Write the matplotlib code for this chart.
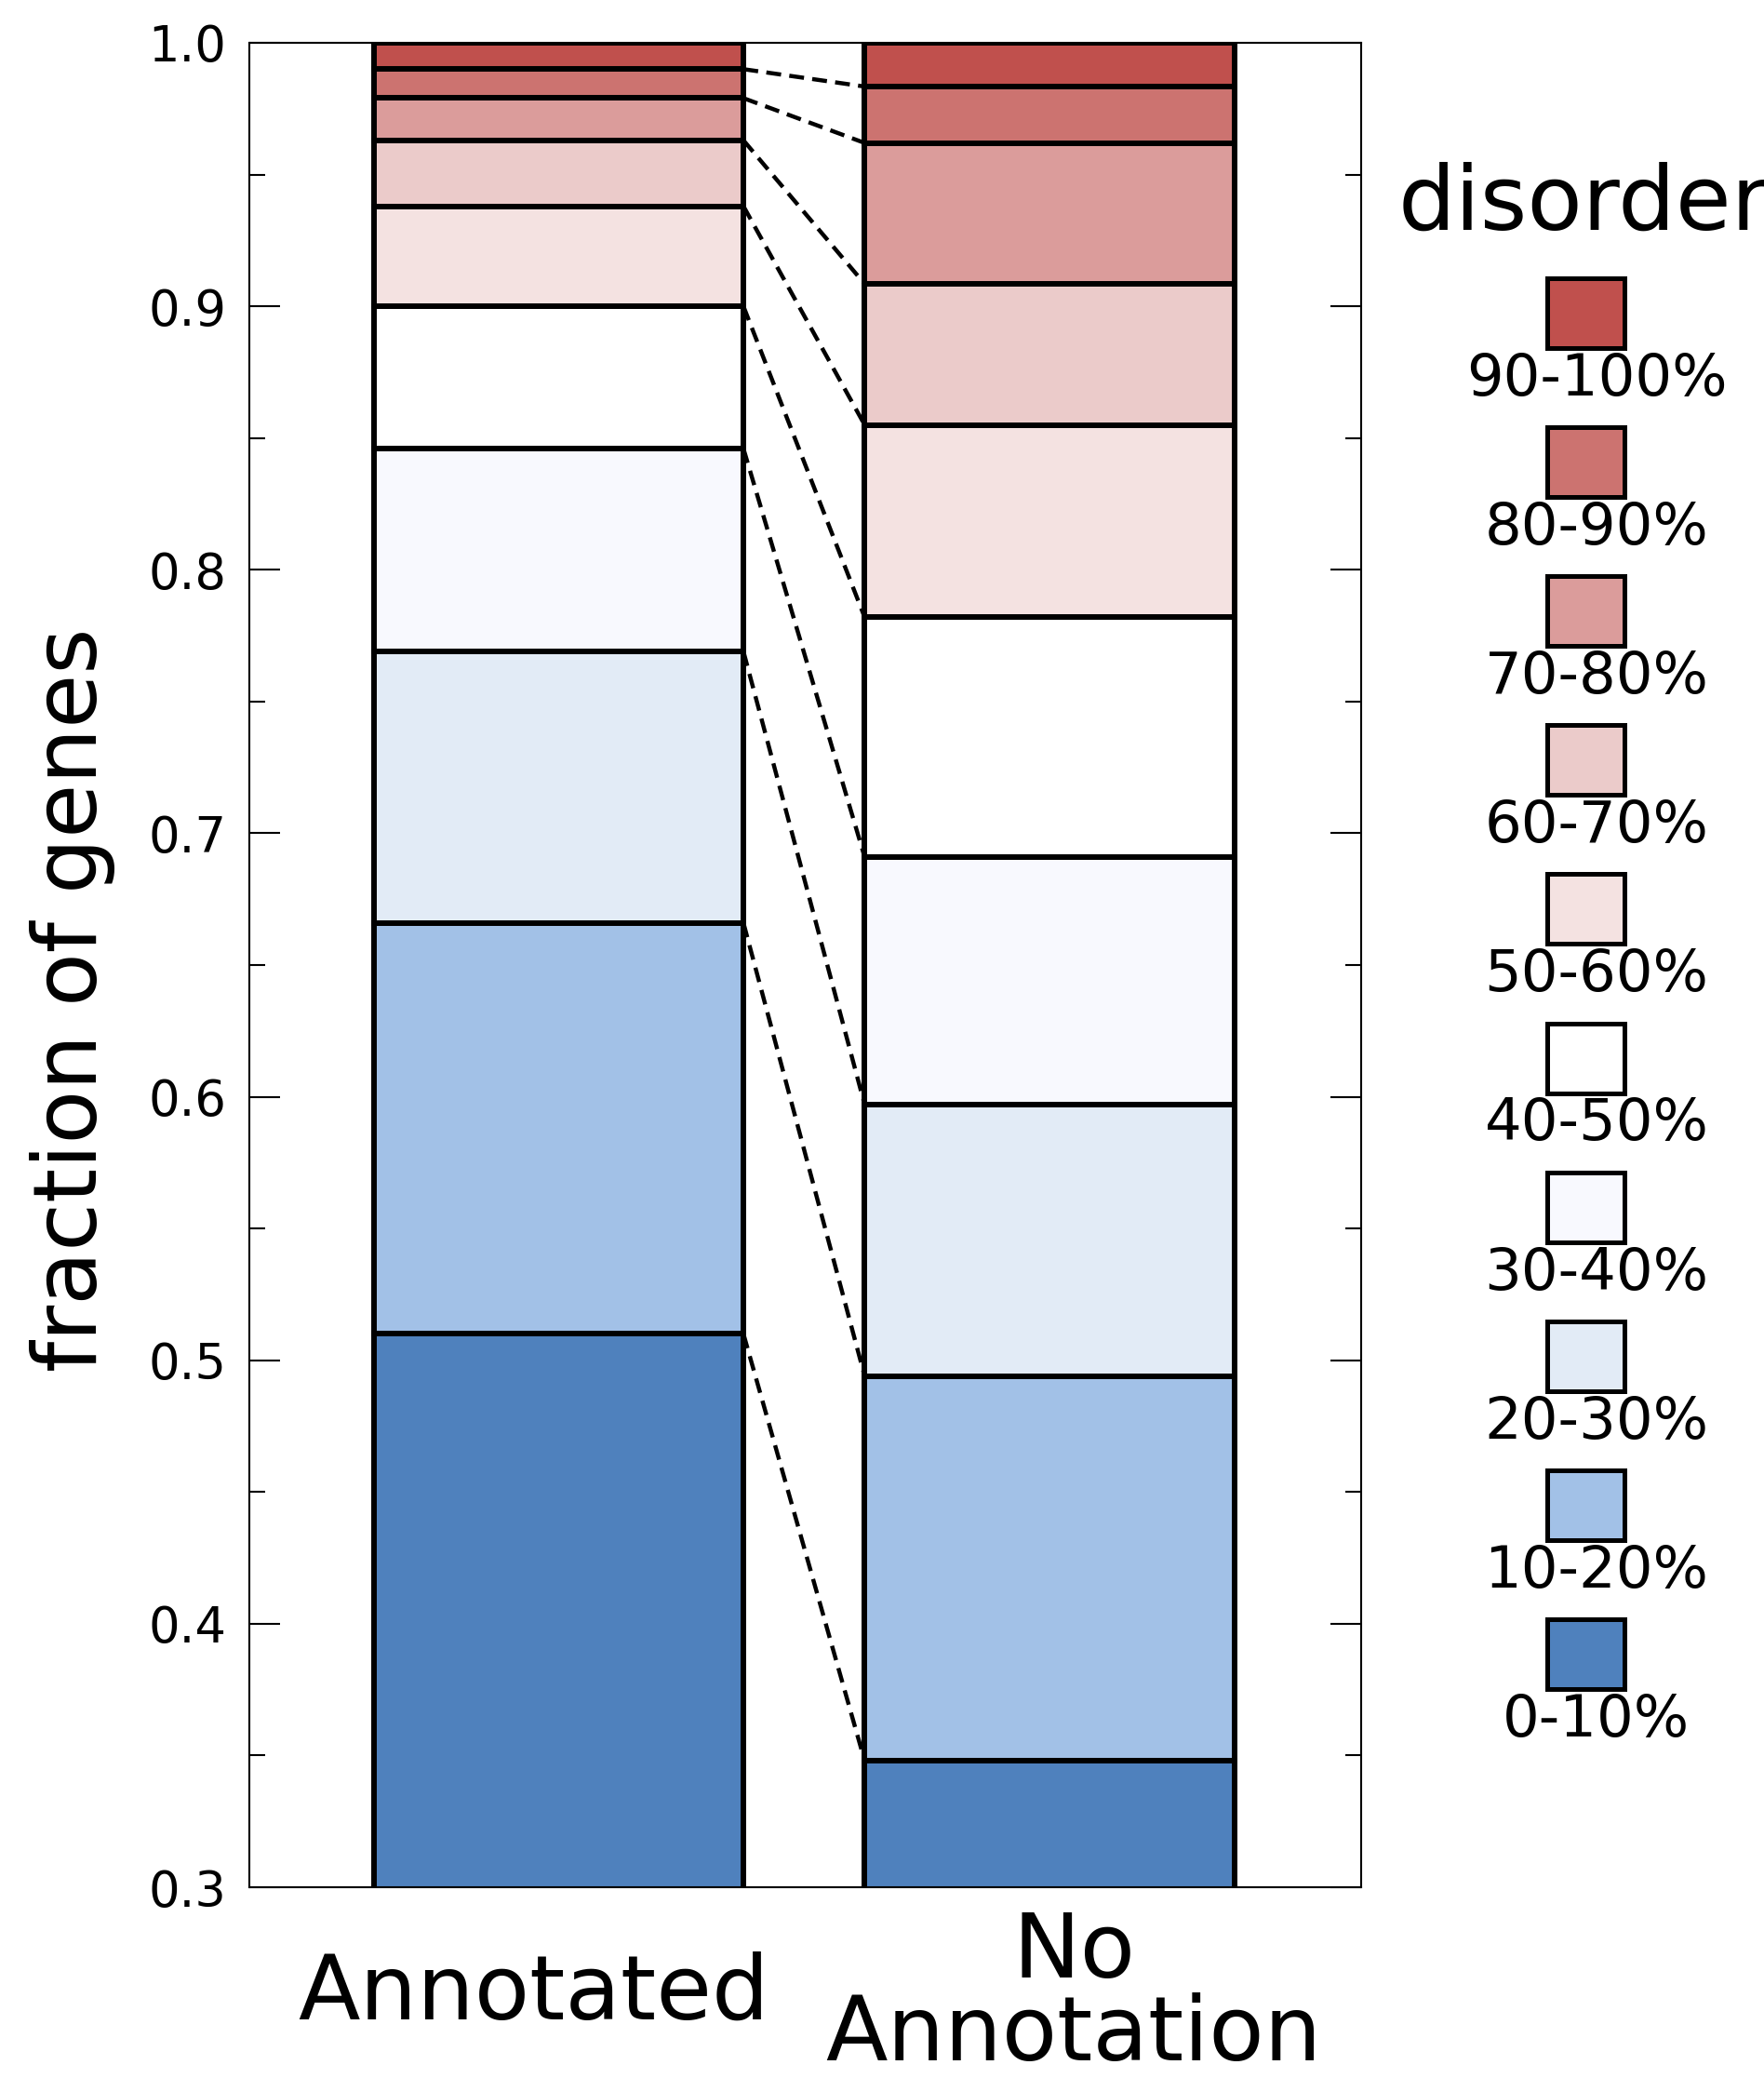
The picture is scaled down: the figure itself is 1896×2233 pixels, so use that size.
import numpy as np
import matplotlib.pyplot as plt
from matplotlib.patches import Rectangle
from matplotlib.ticker import MultipleLocator

# disorder bins, lowest first
bins = ['0-10%', '10-20%', '20-30%', '30-40%', '40-50%',
        '50-60%', '60-70%', '70-80%', '80-90%', '90-100%']
colors = ['#4f81bd', '#a2c1e7', '#e2ebf6', '#f8f9fe', '#ffffff',
          '#f4e2e1', '#ebcbca', '#db9c9b', '#cc7370', '#c0504d']

groups = ['Annotated', 'No\nAnnotation']
annotated = [0.510, 0.156, 0.103, 0.077, 0.054, 0.038, 0.025, 0.016, 0.011, 0.010]
no_annotation = [0.348, 0.146, 0.103, 0.094, 0.091, 0.073, 0.0535, 0.0535, 0.0214, 0.0166]

yticks = [0.3, 0.4, 0.5, 0.6, 0.7, 0.8, 0.9, 1.0]

W, H, DPI = 1896, 2233, 100
fig = plt.figure(figsize=(W / DPI, H / DPI), dpi=DPI)
ax = fig.add_axes([0.1414, 0.0918, 0.6302, 0.8876])

xpos = [0, 1]
width = 0.753
fractions = [annotated, no_annotation]
cums = []
for x, frac in zip(xpos, fractions):
    bottom = 0.0
    cum = []
    for val, col in zip(frac, colors):
        ax.bar(x, val, width, bottom=bottom, color=col, edgecolor='black',
               linewidth=4.3, zorder=2)
        bottom += val
        cum.append(bottom)
    cums.append(cum)

# dashed links between matching bin boundaries
for ya, yb in zip(cums[0][:-1], cums[1][:-1]):
    ax.plot([xpos[0] + width / 2, xpos[1] - width / 2], [ya, yb],
            color='black', linestyle=(0, (3.6, 2.0)), linewidth=3.2, zorder=3)

ax.set_xlim(-0.63, 1.635)
ax.set_ylim(0.3, 1.0)
ax.set_yticks(yticks)
ax.yaxis.set_minor_locator(MultipleLocator(0.05))
ax.tick_params(axis='y', which='both', direction='in', left=True, right=True,
               labelsize=38, width=1.5, pad=18)
ax.tick_params(axis='y', which='major', length=24)
ax.tick_params(axis='y', which='minor', length=12)
ax.set_yticklabels([f'{v:.1f}' for v in yticks])

ax.set_xticks([-0.05, 1.05])
ax.set_xticklabels(groups, fontsize=70, linespacing=0.95)
ax.tick_params(axis='x', length=0, pad=83)
for lab in ax.get_xticklabels():
    lab.set_va('center')

for sp in ax.spines.values():
    sp.set_linewidth(1.5)

ax.set_ylabel('fraction of genes', fontsize=68)
ax.yaxis.set_label_coords(-0.159, 0.481)
ax.yaxis.label.set_va('center')

# legend drawn in pixel coordinates, top bin first
lg = fig.add_axes([0, 0, 1, 1], zorder=5)
lg.set_xlim(0, W)
lg.set_ylim(H, 0)
lg.axis('off')
lg.patch.set_alpha(0)
lg.text(1503, 247, 'disorder', fontsize=70, ha='left', va='baseline')
for i, (lab, col) in enumerate(zip(bins[::-1], colors[::-1])):
    top = 299 + i * 160.1
    lg.add_patch(Rectangle((1663, top), 83, 75, facecolor=col,
                           edgecolor='black', linewidth=3.6))
    lg.text(1716, top + 109, lab, fontsize=45, ha='center', va='center')

fig.savefig('out.png', dpi=DPI)
